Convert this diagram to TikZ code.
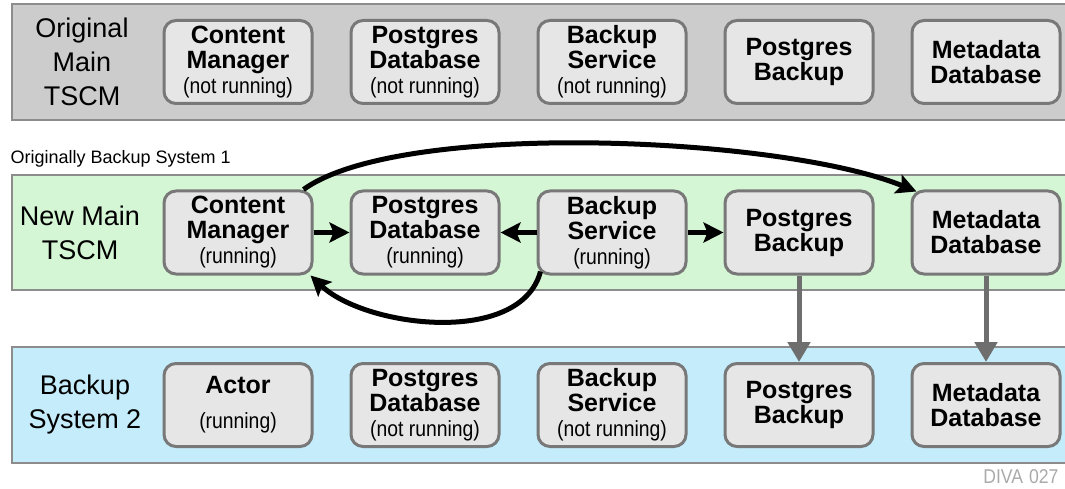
\documentclass[tikz,border=0pt]{standalone}
\usepackage{fontspec}
\setmainfont{Liberation Sans}
\newfontfamily\narrowfont[FakeStretch=0.88]{Liberation Sans}
\usetikzlibrary{arrows.meta}
\usetikzlibrary{calc}
\definecolor{topgray}{RGB}{204,204,204}
\definecolor{newgreen}{RGB}{212,246,212}
\definecolor{backblue}{RGB}{196,236,250}
\definecolor{bandline}{RGB}{140,140,140}
\definecolor{boxfill}{RGB}{230,230,230}
\definecolor{boxline}{RGB}{120,120,120}
\definecolor{arrowgray}{RGB}{110,110,110}
\definecolor{divagray}{RGB}{170,170,170}
\tikzstyle{band} = [line width=2.5pt, draw=bandline]
\tikzstyle{service} = [rectangle, rounded corners=12pt, minimum width=148pt, minimum height=83pt, text centered, align=center, inner sep=0pt, line width=3pt, draw=boxline, fill=boxfill, font=\bfseries\fontsize{25}{25}\selectfont]
\tikzstyle{rowname} = [align=center, font=\fontsize{27}{34}\selectfont]
\tikzstyle{arrow} = [line width=5pt, -{Stealth[length=20pt,width=20pt,inset=4pt]}]
\tikzstyle{copyarrow} = [line width=5pt, draw=arrowgray, -{Triangle[length=20pt,width=22pt]}]
\newcommand{\runstate}[1]{{\narrowfont\mdseries\fontsize{22}{25}\selectfont #1}}

\begin{document}
\begin{tikzpicture}[x=1pt,y=1pt,node distance=187pt]
\useasboundingbox (0,0) rectangle (1065,488);
% bands
\draw [band, fill=topgray] (12,368) rectangle (1075,484);
\draw [band, fill=newgreen] (12,198) rectangle (1075,313);
\draw [band, fill=backblue] (12,25) rectangle (1075,141);
\node (orig) [anchor=base west, font=\fontsize{18}{22}\selectfont] at (7,324) {Originally Backup System 1};
\node (diva) [anchor=base east, text=divagray, font=\narrowfont\fontsize{20}{20}\selectfont] at (1062,5) {DIVA\hspace{6pt}027};
% original main
\node (row1) [rowname] at (82,426) {Original\\Main\\TSCM};
\node (cm1) [service] at (238,426) {Content\\Manager\\\runstate{(not running)}};
\node (pd1) [service, right of=cm1] {Postgres\\Database\\\runstate{(not running)}};
\node (bs1) [service, right of=pd1] {Backup\\Service\\\runstate{(not running)}};
\node (pb1) [service, right of=bs1] {Postgres\\Backup};
\node (md1) [service, right of=pb1] {Metadata\\Database};
% new main
\node (row2) [rowname] at (80,255.5) {New Main\\TSCM};
\node (cm2) [service] at (238,255.5) {Content\\Manager\\\runstate{(running)}};
\node (pd2) [service, right of=cm2] {Postgres\\Database\\\runstate{(running)}};
\node (bs2) [service, right of=pd2] {Backup\\Service\\\runstate{(running)}};
\node (pb2) [service, right of=bs2] {Postgres\\Backup};
\node (md2) [service, right of=pb2] {Metadata\\Database};
% backup system 2
\node (row3) [rowname] at (85,83) {Backup\\System 2};
\node (ac3) [service] at (238,83) {Actor\\[10pt]\runstate{(running)}};
\node (pd3) [service, right of=ac3] {Postgres\\Database\\\runstate{(not running)}};
\node (bs3) [service, right of=pd3] {Backup\\Service\\\runstate{(not running)}};
\node (pb3) [service, right of=bs3] {Postgres\\Backup};
\node (md3) [service, right of=pb3] {Metadata\\Database};
% connectors
\draw [arrow] (cm2) -- (pd2);
\draw [arrow] (bs2) -- (pd2);
\draw [arrow] (bs2) -- (pb2);
\draw [arrow] ($(cm2.north east)+(-10,0)$) .. controls +(97,70) and +(-135,55) .. ($(md2.north west)+(6,-2)$);
\draw [arrow] ($(bs2.south west)+(4,4)$) .. controls +(-20,-75) and +(55,-52) .. ($(cm2.south east)+(-3,0)$);
\draw [copyarrow] (pb2) -- (pb3);
\draw [copyarrow] (md2) -- (md3);
\end{tikzpicture}
\end{document}
